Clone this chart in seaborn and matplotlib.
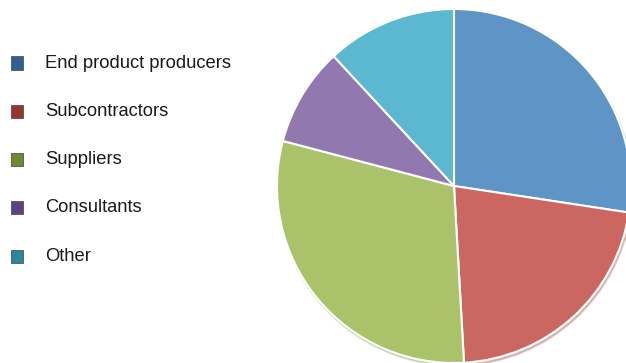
import matplotlib
matplotlib.use("Agg")
import matplotlib.pyplot as plt
import seaborn as sns
from matplotlib.patches import Rectangle

sns.set_theme(style="white")
plt.rcParams['font.family'] = ['Liberation Sans', 'DejaVu Sans']

categories = ["End product producers", "Subcontractors", "Suppliers", "Consultants", "Other"]
values = [27.4, 21.7, 30.0, 9.0, 11.9]
colors = ["#5f95c6", "#cc6660", "#aac36a", "#9178ae", "#5bb8d0"]
marker_colors = ["#2f5f96", "#9a3431", "#6e8a33", "#5a437e", "#2a879e"]

W, H = 626, 363
fig = plt.figure(figsize=(W / 100, H / 100), dpi=100)
fig.patch.set_facecolor("white")

cx, cy, r = 454, 186, 177
ax = fig.add_axes([(cx - r) / W, (H - cy - r) / H, 2 * r / W, 2 * r / H])
ax.pie(values, colors=colors, startangle=90, counterclock=False,
       wedgeprops=dict(edgecolor="white", linewidth=1.5),
       shadow=dict(ox=0.005, oy=-0.01, shade=0.2, alpha=0.3))
ax.set_xlim(-1, 1)
ax.set_ylim(-1, 1)
ax.set_aspect("equal")
ax.axis("off")

y0, dy = 63, 48.3
for i, (lab, mc) in enumerate(zip(categories, marker_colors)):
    y = y0 + i * dy
    fig.add_artist(Rectangle((11 / W, (H - y - 6.5) / H), 12 / W, 13 / H,
                             transform=fig.transFigure, facecolor=mc,
                             edgecolor="#555555", linewidth=0.6))
    fig.text(45 / W, (H - y) / H, lab, fontsize=13.2, color="#1a1a1a",
             va="center", ha="left")

fig.savefig("out.png", dpi=100)
